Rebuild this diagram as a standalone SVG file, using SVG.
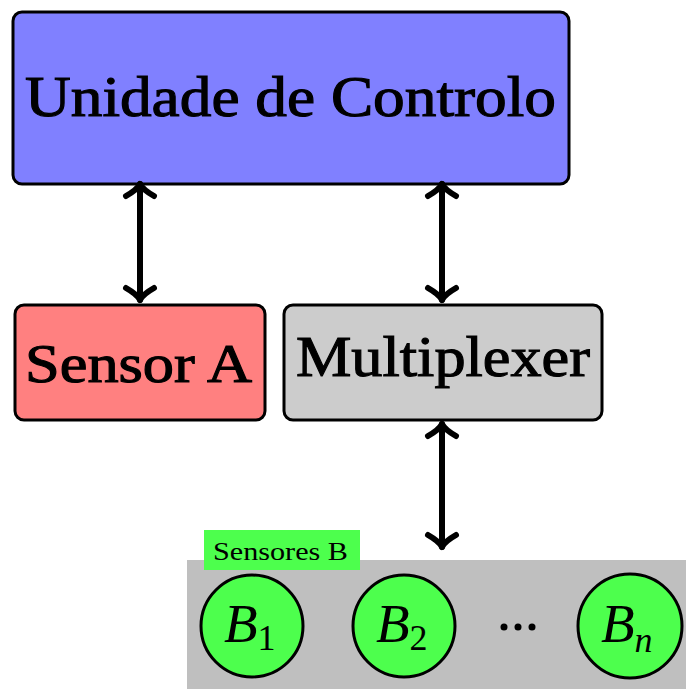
<svg xmlns="http://www.w3.org/2000/svg" width="686" height="689" viewBox="0 0 686 689">
<style>
.box{stroke:#000;stroke-width:3}
.lbl{font-family:"Liberation Serif","DejaVu Serif",serif;fill:#000;stroke:#000;stroke-width:1.1}
.circ{fill:#4dff4d;stroke:#000;stroke-width:3}
.bl{font-family:"Liberation Serif","DejaVu Serif",serif;font-style:italic;font-size:55px;fill:#000}
.sub{font-style:normal;font-size:36px}
.arr{fill:none;stroke:#000;stroke-width:6;stroke-linecap:round;stroke-linejoin:round}
</style>
<rect width="686" height="689" fill="#fff"/>
<g id="unidade">
<rect class="box" x="13" y="12" width="556" height="172" rx="9" fill="#8080ff"/>
<text class="lbl" x="25" y="116" font-size="56" textLength="531" lengthAdjust="spacingAndGlyphs">Unidade de Controlo</text>
</g>
<g id="sensorA">
<rect class="box" x="15" y="305" width="250" height="115" rx="9" fill="#ff8080"/>
<text class="lbl" x="25" y="382" font-size="54" textLength="227" lengthAdjust="spacingAndGlyphs">Sensor A</text>
</g>
<g id="multiplexer">
<rect class="box" x="284" y="305" width="318" height="115" rx="9" fill="#cccccc"/>
<text class="lbl" x="296" y="376" font-size="56" textLength="294" lengthAdjust="spacingAndGlyphs">Multiplexer</text>
</g>
<g id="sensoresB">
<rect x="187" y="560" width="499" height="129" fill="#bfbfbf"/>
<rect x="204" y="530" width="156" height="40" fill="#4dff4d"/>
<text x="213" y="560" font-family="Liberation Serif, DejaVu Serif, serif" font-size="26" textLength="135" lengthAdjust="spacingAndGlyphs">Sensores B</text>
</g>
<g id="B1">
<circle class="circ" cx="252" cy="626" r="51"/>
<text class="bl" x="224" y="642">B<tspan class="sub" dy="8">1</tspan></text>
</g>
<g id="B2">
<circle class="circ" cx="404" cy="626" r="51"/>
<text class="bl" x="376" y="642">B<tspan class="sub" dy="8">2</tspan></text>
</g>
<g id="dots">
<circle cx="504" cy="627" r="3.5"/>
<circle cx="518" cy="627" r="3.5"/>
<circle cx="532" cy="627" r="3.5"/>
</g>
<g id="Bn">
<circle class="circ" cx="630" cy="626" r="52"/>
<text class="bl" x="601" y="642">B<tspan font-size="36" dy="10">n</tspan></text>
</g>
<g id="connectors">
<path class="arr" d="M140,184 V300"/>
<path class="arr" d="M126,196 C133,192 138,188 140,184 C142,188 147,192 154,196"/>
<path class="arr" d="M126,288 C133,292 138,296 140,300 C142,296 147,292 154,288"/>
<path class="arr" d="M442,184 V300"/>
<path class="arr" d="M428,196 C435,192 440,188 442,184 C444,188 449,192 456,196"/>
<path class="arr" d="M428,288 C435,292 440,296 442,300 C444,296 449,292 456,288"/>
<path class="arr" d="M442,424 V547"/>
<path class="arr" d="M428,436 C435,432 440,428 442,424 C444,428 449,432 456,436"/>
<path class="arr" d="M428,535 C435,539 440,543 442,547 C444,543 449,539 456,535"/>
</g>
</svg>
